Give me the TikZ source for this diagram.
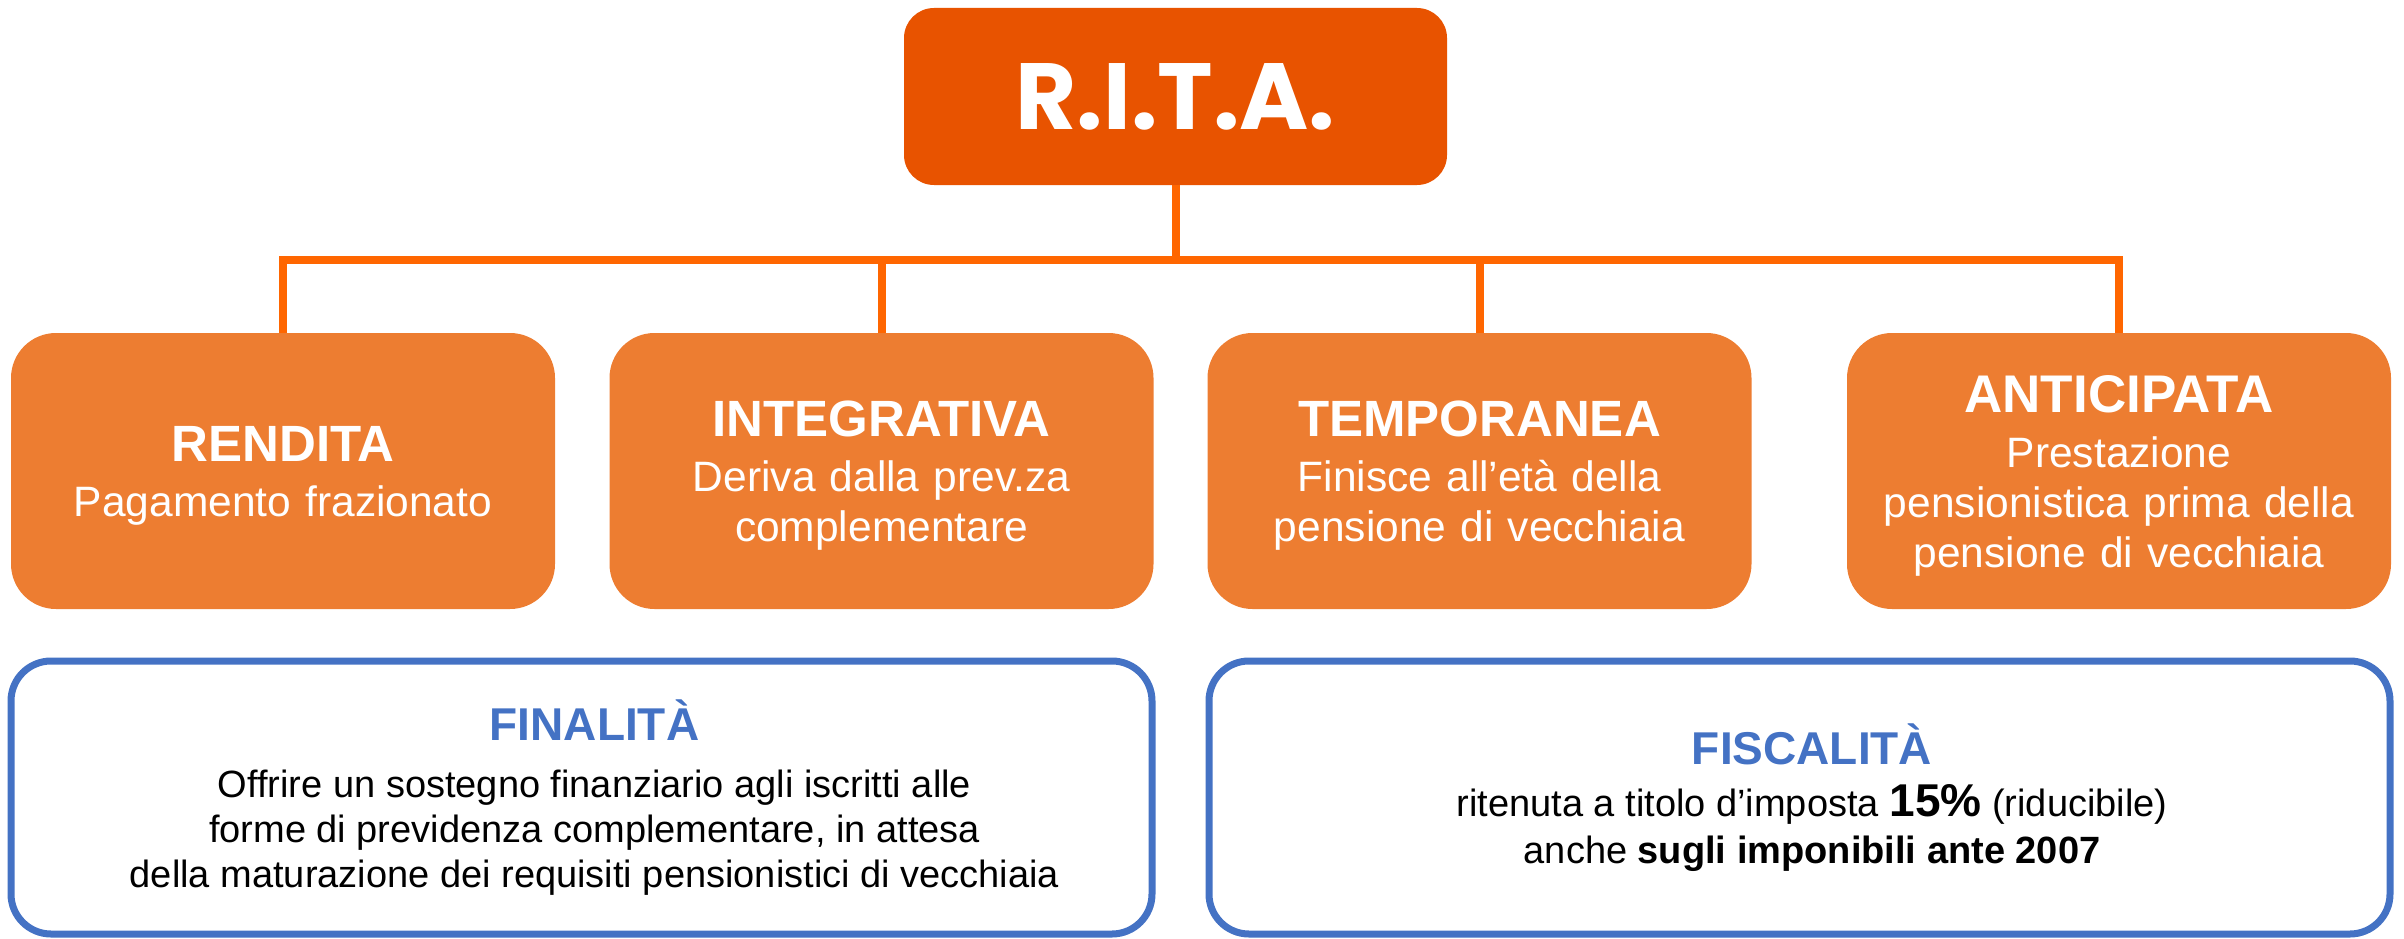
\documentclass[tikz,border=0pt]{standalone}
\usepackage{fontspec}
\setmainfont{Liberation Sans}
\newfontfamily\ritafont{Poppins}
\definecolor{topor}{HTML}{E85300}
\definecolor{lineor}{HTML}{FF6600}
\definecolor{boxor}{HTML}{ED7D31}
\definecolor{blueb}{HTML}{4472C4}
\begin{document}
\begin{tikzpicture}[x=1pt,y=-1pt,
  topbox/.style={fill=topor, rounded corners=30pt, text=white, inner sep=0pt,
    minimum width=543pt, minimum height=177pt, font=\ritafont\bfseries\fontsize{94}{100}\selectfont},
  orbox/.style={fill=boxor, rounded corners=45pt, inner sep=0pt,
    minimum width=544pt, minimum height=276pt},
  ortext/.style={text=white, inner sep=0pt, align=center, text width=530pt,
    font=\fontsize{42.5}{50}\selectfont},
  ortitle/.style={},
  bluebox/.style={draw=blueb, line width=7pt, rounded corners=40pt, inner sep=0pt,
    minimum height=273pt},
  bluetext/.style={inner sep=0pt, align=center, font=\fontsize{38}{45}\selectfont},
  conn/.style={draw=lineor, line width=8pt, line join=miter},
]
\useasboundingbox (0,0) rectangle (2404,939);
\node[topbox] (rita) at (1175.5,96.5) {R.I.T.A.};
\node[orbox] (rendita) at (283,471) {};
\node[orbox] (integrativa) at (881.5,471) {};
\node[orbox] (temporanea) at (1479.5,471) {};
\node[orbox] (anticipata) at (2119,471) {};
\node[ortext, yshift=-5pt] (renditat) at (rendita.center) {{\fontsize{51}{50}\selectfont\bfseries RENDITA}\\[5pt]Pagamento frazionato};
\node[ortext, yshift=-5pt] (integrativat) at (integrativa.center) {{\fontsize{51}{50}\selectfont\bfseries INTEGRATIVA}\\[5pt]Deriva dalla prev.za\\complementare};
\node[ortext, yshift=-5pt] (temporaneat) at (temporanea.center) {{\fontsize{51}{50}\selectfont\bfseries TEMPORANEA}\\[5pt]Finisce all’età della\\pensione di vecchiaia};
\node[ortext, yshift=-5pt] (anticipatat) at (anticipata.center) {{\fontsize{53}{50}\selectfont\bfseries ANTICIPATA}\\[5pt]Prestazione\\pensionistica prima della\\pensione di vecchiaia};
\coordinate (bar) at (0,260);
\draw[conn] (rita.south) -- (rita.south |- bar);
\draw[conn] (rendita.north) -- (rendita.north |- bar) -- (anticipata.north |- bar) -- (anticipata.north);
\draw[conn] (integrativa.north) -- (integrativa.north |- bar);
\draw[conn] (temporanea.north) -- (temporanea.north |- bar);
\node[bluebox, minimum width=1141pt] (finalita) at (581.5,797.5) {};
\node[bluebox, minimum width=1181pt] (fiscalita) at (1799.5,797.5) {};
\node[bluetext, xshift=13pt] (finalitat) at (finalita.center) {{\fontsize{46}{46}\selectfont\bfseries\color{blueb}FINALITÀ}\\[12pt]Offrire un sostegno finanziario agli iscritti alle\\forme di previdenza complementare, in attesa\\della maturazione dei requisiti pensionistici di vecchiaia};
\node[bluetext, xshift=12.5pt, font=\fontsize{38}{47}\selectfont] (fiscalitat) at (fiscalita.center) {{\fontsize{46}{46}\selectfont\bfseries\color{blueb}FISCALITÀ}\\[5pt]ritenuta a titolo d’imposta {\fontsize{46}{46}\selectfont\bfseries 15\%} (riducibile)\\anche \textbf{sugli imponibili ante 2007}};
\end{tikzpicture}
\end{document}
